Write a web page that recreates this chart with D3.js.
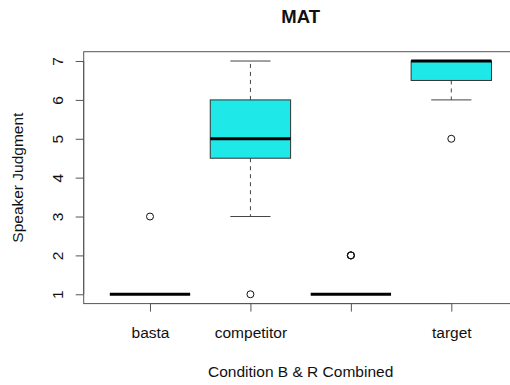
<!DOCTYPE html>
<html lang="en">
<head>
<meta charset="utf-8">
<title>MAT boxplot</title>
<script src="https://d3js.org/d3.v7.min.js"></script>
<style>
  body { margin: 0; background: #fff; }
  text { font-family: "Liberation Sans", Arial, sans-serif; fill: #111; }
</style>
</head>
<body>
<script>
// categories and box statistics
var categories = ["basta", "competitor", "", "target"];
var q1       = [1, 4.5, 1, 6.5];
var median   = [1, 5,   1, 7];
var q3       = [1, 6,   1, 7];
var whiskLo  = [1, 3,   1, 6];
var whiskHi  = [1, 7,   1, 7];
var outliers = [[3], [1], [2, 2, 2], [5]];
var yTicks = [1, 2, 3, 4, 5, 6, 7];

var w = 510, h = 385;
var boxFill = "#1ee8e8";

var svg = d3.select("body").append("svg")
    .attr("width", w)
    .attr("height", h);

// R style: xlim 0.5..4.5 padded 4%, ylim 1..7 padded 4%
var x = d3.scaleLinear().domain([0.34, 4.66]).range([83.7, 517.6]);
var y = d3.scaleLinear().domain([0.76, 7.24]).range([303.6, 51.7]);

var data = categories.map(function(c, i) {
    return { name: c, i: i + 1, q1: q1[i], med: median[i], q3: q3[i],
             lo: whiskLo[i], hi: whiskHi[i], out: outliers[i] };
});

var boxW = x(1.4) - x(1);       // half box width in px (0.4 units)

// whiskers (dashed)
var g = svg.append("g");
data.forEach(function(d) {
    var cx = x(d.i);
    if (d.hi > d.q3) {
        g.append("line").attr("x1", cx).attr("x2", cx)
            .attr("y1", y(d.q3)).attr("y2", y(d.hi))
            .attr("stroke", "#444").attr("stroke-dasharray", "4,4");
        g.append("line").attr("x1", cx - boxW / 2).attr("x2", cx + boxW / 2)
            .attr("y1", y(d.hi)).attr("y2", y(d.hi)).attr("stroke", "#444");
    }
    if (d.lo < d.q1) {
        g.append("line").attr("x1", cx).attr("x2", cx)
            .attr("y1", y(d.q1)).attr("y2", y(d.lo))
            .attr("stroke", "#444").attr("stroke-dasharray", "4,4");
        g.append("line").attr("x1", cx - boxW / 2).attr("x2", cx + boxW / 2)
            .attr("y1", y(d.lo)).attr("y2", y(d.lo)).attr("stroke", "#444");
    }
});

// boxes
g.selectAll("rect.box").data(data).enter().append("rect")
    .attr("class", "box")
    .attr("x", function(d) { return x(d.i) - boxW; })
    .attr("y", function(d) { return y(d.q3); })
    .attr("width", boxW * 2)
    .attr("height", function(d) { return y(d.q1) - y(d.q3); })
    .attr("fill", boxFill)
    .attr("stroke", "#333")
    .attr("stroke-width", 1);

// medians
g.selectAll("line.med").data(data).enter().append("line")
    .attr("class", "med")
    .attr("x1", function(d) { return x(d.i) - boxW; })
    .attr("x2", function(d) { return x(d.i) + boxW; })
    .attr("y1", function(d) { return y(d.med); })
    .attr("y2", function(d) { return y(d.med); })
    .attr("stroke", "#000")
    .attr("stroke-width", 3);

// outliers
data.forEach(function(d) {
    g.selectAll(null).data(d.out).enter().append("circle")
        .attr("cx", x(d.i))
        .attr("cy", function(v) { return y(v); })
        .attr("r", 3.5)
        .attr("fill", "none")
        .attr("stroke", "#111")
        .attr("stroke-width", 1);
});

// frame
svg.append("rect")
    .attr("x", x(0.34)).attr("y", y(7.24))
    .attr("width", x(4.66) - x(0.34))
    .attr("height", y(0.76) - y(7.24))
    .attr("fill", "none")
    .attr("stroke", "#555");

// y axis
var yAxis = svg.append("g")
    .attr("transform", "translate(" + x(0.34) + ",0)")
    .call(d3.axisLeft(y).tickValues(yTicks).tickSize(8).tickFormat(d3.format("d")));
yAxis.select(".domain").attr("stroke", "#555").attr("d", "M0," + y(1) + "V" + y(7));
yAxis.selectAll(".tick line").attr("stroke", "#555");
yAxis.selectAll(".tick text")
    .attr("x", 0).attr("y", 0).attr("dy", null)
    .attr("text-anchor", "middle")
    .attr("transform", "translate(-21,0) rotate(-90)")
    .style("font-size", "15.5px")
    .style("font-family", "Liberation Sans, Arial, sans-serif")
    .attr("fill", "#111");

// x axis
var xAxis = svg.append("g")
    .attr("transform", "translate(0," + y(0.76) + ")")
    .call(d3.axisBottom(x).tickValues([1, 2, 3, 4]).tickSize(8)
        .tickFormat(function(d) { return categories[d - 1]; }));
xAxis.select(".domain").attr("stroke", "#555").attr("d", "M" + x(1) + ",0H" + x(4));
xAxis.selectAll(".tick line").attr("stroke", "#555");
xAxis.selectAll(".tick text")
    .attr("y", 34).attr("dy", null)
    .style("font-size", "15.5px")
    .style("font-family", "Liberation Sans, Arial, sans-serif")
    .attr("fill", "#111");

// labels
var midX = (x(0.34) + x(4.66)) / 2;
svg.append("text")
    .attr("x", midX).attr("y", 23)
    .attr("text-anchor", "middle")
    .style("font-size", "18.5px").style("font-weight", "bold")
    .text("MAT");

svg.append("text")
    .attr("x", midX).attr("y", 377)
    .attr("text-anchor", "middle")
    .style("font-size", "15.5px")
    .text("Condition B & R Combined");

svg.append("text")
    .attr("transform", "translate(23," + (y(0.76) + y(7.24)) / 2 + ") rotate(-90)")
    .attr("text-anchor", "middle")
    .style("font-size", "15.5px")
    .text("Speaker Judgment");
</script>
</body>
</html>
